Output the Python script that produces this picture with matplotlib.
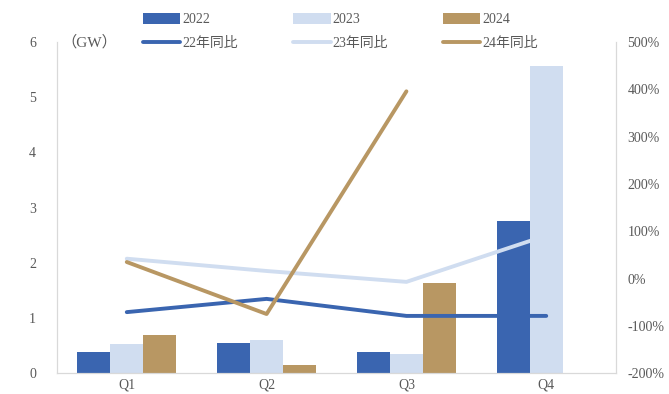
import numpy as np
import matplotlib.pyplot as plt

plt.rcParams['font.family'] = ['Liberation Serif', 'Noto Sans CJK JP']

quarters = ['Q1', 'Q2', 'Q3', 'Q4']
cap_2022 = [0.38, 0.55, 0.38, 2.75]
cap_2023 = [0.53, 0.60, 0.35, 5.56]
cap_2024 = [0.69, 0.15, 1.64]
yoy_22 = [-71, -43, -79, -79]
yoy_23 = [42, 16, -7, 91]
yoy_24 = [35, -75, 396]

c22 = '#3A65B0'
c23 = '#D0DDF0'
c24 = '#B89763'
grey = '#D9D9D9'
txt = '#595959'

fig = plt.figure(figsize=(6.69, 3.94), dpi=100)
ax = fig.add_axes([0.085, 0.053, 0.836, 0.840])
ax2 = ax.twinx()

x = np.arange(len(quarters))
w = 0.235
b1 = ax.bar(x - w, cap_2022, w, color=c22, label='2022')
b2 = ax.bar(x, cap_2023, w, color=c23, label='2023')
b3 = ax.bar(x[:3] + w, cap_2024, w, color=c24, label='2024')

l1, = ax2.plot(x, yoy_22, color=c22, lw=2.8, label='22年同比', solid_capstyle='round')
l2, = ax2.plot(x, yoy_23, color=c23, lw=2.8, label='23年同比', solid_capstyle='round')
l3, = ax2.plot(x[:3], yoy_24, color=c24, lw=2.8, label='24年同比', solid_capstyle='round')

ax.set_xlim(-0.5, 3.5)
ax.set_ylim(0, 6)
ax.set_yticks(range(7))
ax.set_xticks(x)
ax.set_xticklabels(quarters)
ax2.set_ylim(-200, 500)
ax2.set_yticks(range(-200, 501, 100))
ax2.set_yticklabels([f'{v}%' for v in range(-200, 501, 100)])

for a in (ax, ax2):
    a.spines['top'].set_visible(False)
    for s in ('left', 'right', 'bottom'):
        a.spines[s].set_color(grey)
    a.tick_params(length=0, labelsize=10, labelcolor=txt)
ax.tick_params(axis='y', pad=15)
ax.tick_params(axis='x', pad=4, labelsize=10)
ax2.tick_params(axis='y', pad=8)

ax.text(-0.47, 6.0, '（GW）', fontsize=11, color=txt, va='center', ha='left')

# legend filled column by column, so interleave bars and lines
fig.legend([b1, l1, b2, l2, b3, l3],
           ['2022', '22年同比', '2023', '23年同比', '2024', '24年同比'],
           ncol=3, loc='upper left', bbox_to_anchor=(0.195, 1.0),
           frameon=False, fontsize=10, handlelength=2.7, handleheight=0.9,
           handletextpad=0.15, columnspacing=3.95, labelspacing=0.75,
           labelcolor=txt)

fig.savefig('out.png', dpi=100)
